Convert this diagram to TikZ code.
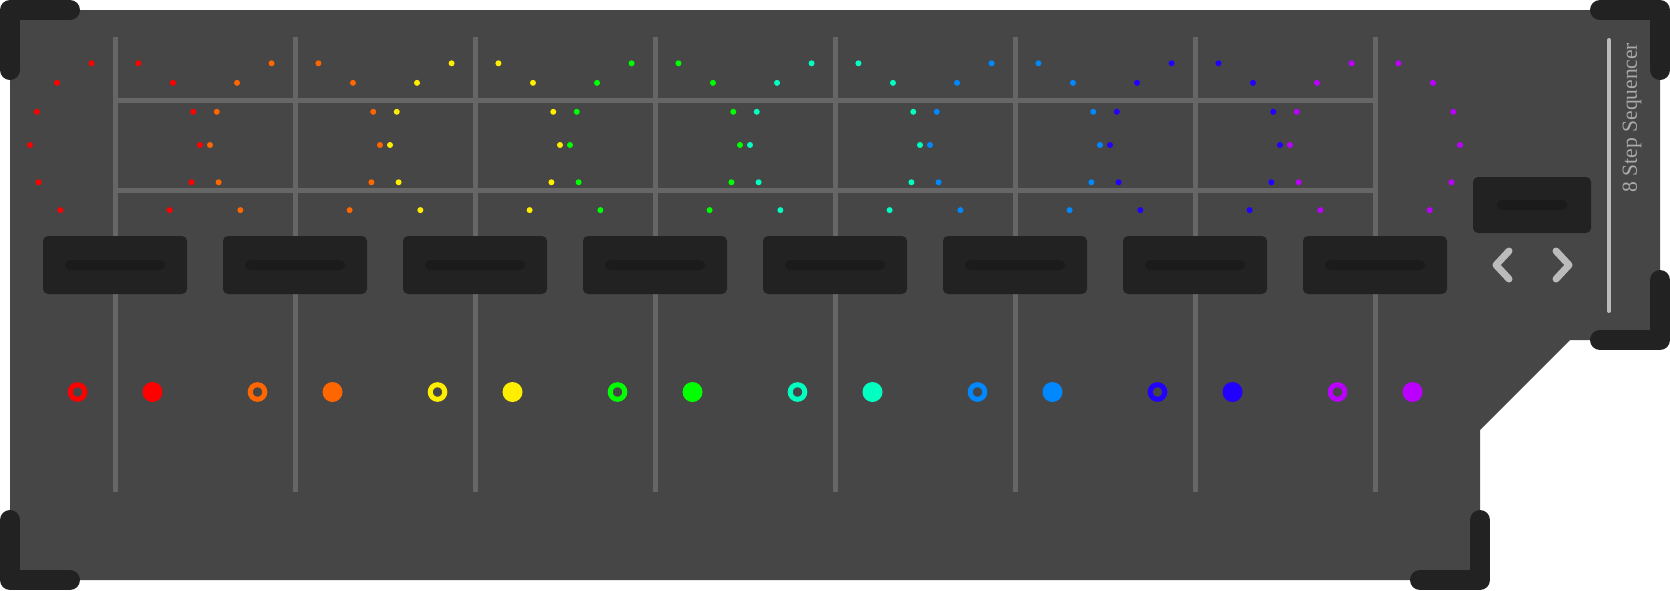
\documentclass[tikz,border=0pt]{standalone}
\usepackage{fontspec}
\setmainfont{Liberation Serif}
\usepackage{xcolor}
\usepackage{tikz}
\usetikzlibrary{
  positioning
}
\definecolor{panel}     {HTML}{464646}
\definecolor{bracket}   {HTML}{222222}
\definecolor{slotdark}  {HTML}{1B1B1B}
\definecolor{gridline}  {HTML}{666666}
\definecolor{control}   {HTML}{BBBBBB}
\definecolor{labelgray} {HTML}{AAAAAA}
\definecolor{stepred}   {HTML}{FF0000}
\definecolor{steporange}{HTML}{FF6600}
\definecolor{stepyellow}{HTML}{FFEE00}
\definecolor{stepgreen} {HTML}{00FF00}
\definecolor{stepteal}  {HTML}{00FFC0}
\definecolor{stepazure} {HTML}{0088FF}
\definecolor{stepblue}  {HTML}{2200FF}
\definecolor{steppurple}{HTML}{BB00FF}

\begin{document}
\begin{tikzpicture}[
  x=1pt, y=-1pt,
  fader/.style={
    rectangle, rounded corners=5pt, minimum width=144pt, minimum height=58pt,
    fill=bracket, inner sep=0pt
  },
  slot/.style={
    rectangle, rounded corners=5pt, minimum width=100pt, minimum height=10pt,
    fill=slotdark, inner sep=0pt
  },
  rail/.style={draw=gridline, line width=5pt},
  cornermark/.style={draw=bracket, line width=20pt, line cap=round, line join=round},
  chevron/.style={draw=control, line width=7pt, line cap=round, line join=round},
  sidelabel/.style={text=labelgray, font=\fontsize{21.5}{24}\selectfont, inner sep=0pt}
]
\useasboundingbox (0,0) rectangle (1670,590);

% Panel
\fill[panel] (10,10) -- (1660,10) -- (1660,340) -- (1570,340)
  -- (1480,430) -- (1480,580) -- (10,580) -- cycle;

% Rails
\foreach \i in {0,...,7}
  \draw[rail] (115+180*\i,37) -- (115+180*\i,492);
\draw[rail] (112.5,100) -- (1377.5,100);
\draw[rail] (112.5,190) -- (1377.5,190);

% Step rings and indicators
\foreach \i/\c in {0/stepred, 1/steporange, 2/stepyellow, 3/stepgreen,
                   4/stepteal, 5/stepazure, 6/stepblue, 7/steppurple} {
  \foreach \a in {74,47,23,0,-26,-50,106,133,157,180,206,230}
    \fill[\c] ({115+180*\i+85*cos(\a)},{145-85*sin(\a)}) circle[radius=3];
  \draw[\c, line width=5pt] (77.5+180*\i,392) circle[radius=7.3];
  \fill[\c] (152.5+180*\i,392) circle[radius=10];
}

% Faders
\foreach \i in {0,...,7} {
  \node[fader] (fader\i) at (115+180*\i,265) {};
  \node[slot] (slot\i) at (fader\i) {};
}

% Controls
\node[fader, minimum width=118pt, minimum height=56pt] (ctrl) at (1532,205) {};
\node[slot, minimum width=70pt] (ctrlslot) at (ctrl) {};
\draw[chevron] (1509,251) -- (1496,265) -- (1509,279);
\draw[chevron] (1556,251) -- (1569,265) -- (1556,279);
\draw[control, line width=4pt, line cap=round] (1609,40) -- (1609,311);
\node[sidelabel, rotate=90] (title) at (1632,117.5) {8 Step Sequencer};

% Corner brackets
\draw[cornermark] (10,70) -- (10,10) -- (70,10);
\draw[cornermark] (1600,10) -- (1660,10) -- (1660,70);
\draw[cornermark] (1660,280) -- (1660,340) -- (1600,340);
\draw[cornermark] (1480,520) -- (1480,580) -- (1420,580);
\draw[cornermark] (10,520) -- (10,580) -- (70,580);

\end{tikzpicture}
\end{document}
